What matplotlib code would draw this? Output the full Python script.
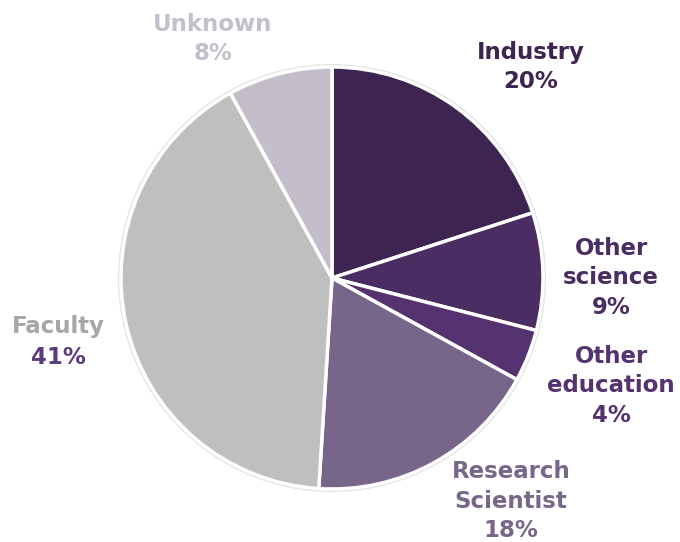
import numpy as np
from matplotlib import pyplot as plt
from matplotlib.patches import Circle

# Career outcomes shares (percent), clockwise from 12 o'clock.
categories = ["Industry", "Other\nscience", "Other\neducation",
              "Research\nScientist", "Faculty", "Unknown"]
shares = [20, 9, 4, 18, 41, 8]

# Slice colours and label colours.
sliceColors = ["#3E2451", "#4A2D62", "#553270", "#77668A", "#BFBFBF", "#C3BECA"]
labelColors = ["#3E2451", "#4A2D62", "#553270", "#77688B", "#A6A6A6", "#C4C0CB"]

# Figure in pixel units: 680 x 542.
fig = plt.figure(figsize=(6.8, 5.42), dpi=100)
ax = fig.add_axes([0, 0, 1, 1])

cx, cy, r = 332, 264, 211

# Soft grey rim behind the pie.
ax.add_patch(Circle((cx, cy), r + 3, facecolor="#E4E4E4", edgecolor="none", zorder=0))

ax.pie(shares, colors=sliceColors, startangle=90, counterclock=False,
       center=(cx, cy), radius=r, frame=True,
       wedgeprops=dict(edgecolor="white", linewidth=2.5))
ax.set_xlim(0, 680)
ax.set_ylim(0, 542)
ax.set_aspect("equal")
ax.axis("off")

# Label anchor points (pixel coords, y measured from bottom).
labelPos = [(531, 475), (611, 264), (611, 156), (511, 41), (58, 200), (213, 503)]

font = dict(family="DejaVu Sans", fontweight="bold", fontsize=16.5)
for name, pct, (lx, ly), col in zip(categories, shares, labelPos, labelColors):
    if name == "Faculty":
        ax.text(lx, ly + 15, name, color=col, ha="center", va="center", **font)
        ax.text(lx, ly - 16, f"{pct}%", color="#5B3A7E", ha="center", va="center", **font)
    else:
        ax.text(lx, ly, f"{name}\n{pct}%", color=col, ha="center", va="center",
                linespacing=1.38, **font)

fig.savefig("out.png", dpi=100)
